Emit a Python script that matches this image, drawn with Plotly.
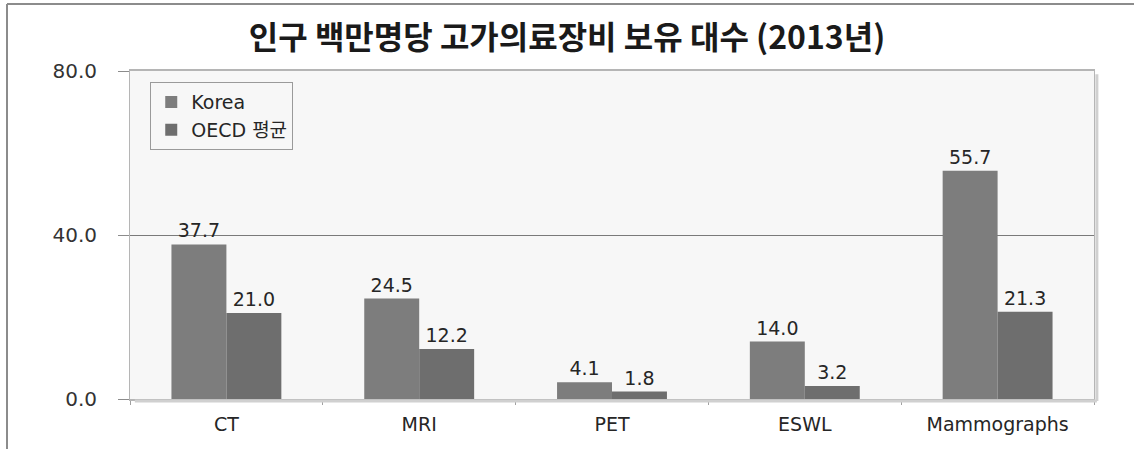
import plotly.graph_objects as go

categories = ["CT", "MRI", "PET", "ESWL", "Mammographs"]
korea = [37.7, 24.5, 4.1, 14.0, 55.7]
oecd = [21.0, 12.2, 1.8, 3.2, 21.3]
y_ticks = [0, 40, 80]
y_tick_labels = ["0.0", "40.0", "80.0"]

FONT = "DejaVu Sans, Noto Sans CJK KR, sans-serif"
label_font = dict(family=FONT, size=19, color="#262626")

fig = go.Figure()
fig.add_trace(go.Bar(
    name="Korea", x=categories, y=korea,
    marker=dict(color="#7d7d7d", line=dict(width=0)),
    text=korea, texttemplate="%{y:.1f}", textposition="outside",
    textfont=label_font, cliponaxis=False,
))
fig.add_trace(go.Bar(
    name="OECD 평균", x=categories, y=oecd,
    marker=dict(color="#6e6e6e", line=dict(width=0)),
    text=oecd, texttemplate="%{y:.1f}", textposition="outside",
    textfont=label_font, cliponaxis=False,
))

# outer frame lines (left and top)
fig.add_shape(type="line", xref="paper", yref="paper",
              x0=(7 - 130) / 964, x1=(7 - 130) / 964, y0=-0.2, y1=(399 - 4) / 328,
              line=dict(color="#8c8c8c", width=2))
fig.add_shape(type="line", xref="paper", yref="paper",
              x0=(7 - 130) / 964, x1=1.05, y0=(399 - 4) / 328, y1=(399 - 4) / 328,
              line=dict(color="#8c8c8c", width=2))
# soft shadow on the right and bottom of the plot area
fig.add_shape(type="line", xref="paper", yref="paper",
              x0=1.003, x1=1.003, y0=-0.006, y1=0.99,
              line=dict(color="#d0d0d0", width=3))
fig.add_shape(type="line", xref="paper", yref="paper",
              x0=0.005, x1=1.003, y0=-0.006, y1=-0.006,
              line=dict(color="#d0d0d0", width=3))

fig.update_layout(
    width=1134, height=449,
    margin=dict(l=130, r=40, t=71, b=50),
    paper_bgcolor="white",
    plot_bgcolor="#f7f7f7",
    barmode="group", bargap=0.43, bargroupgap=0,
    title=dict(
        text="<b>인구 백만명당 고가의료장비 보유 대수 (2013년)</b>",
        x=0.5, xanchor="center", y=1 - 38 / 449, yanchor="middle",
        font=dict(family="Noto Sans CJK KR, sans-serif", size=32, color="#1a1a1a"),
    ),
    legend=dict(
        x=0.021, y=0.966, xanchor="left", yanchor="top",
        bgcolor="#f7f7f7", bordercolor="#9a9a9a", borderwidth=1,
        font=dict(family=FONT, size=19, color="#262626"),
        itemwidth=30, tracegroupgap=2,
    ),
    xaxis=dict(
        showline=True, linecolor="#b5b5b5", linewidth=2, mirror=True,
        ticks="outside", tickson="boundaries", ticklen=4, tickcolor="#a0a0a0",
        tickfont=label_font, showgrid=False, ticklabelstandoff=7,
    ),
    yaxis=dict(
        range=[0, 80], tickvals=y_ticks, ticktext=y_tick_labels,
        showline=True, linecolor="#b5b5b5", linewidth=1, mirror=True,
        ticks="outside", ticklen=11, tickcolor="#8c8c8c",
        showgrid=True, gridcolor="#7a7a7a", gridwidth=1,
        zeroline=False,
        tickfont=dict(family=FONT, size=20, color="#333333"),
        ticklabelstandoff=17,
    ),
    showlegend=True,
)

fig.write_html("out.html")
